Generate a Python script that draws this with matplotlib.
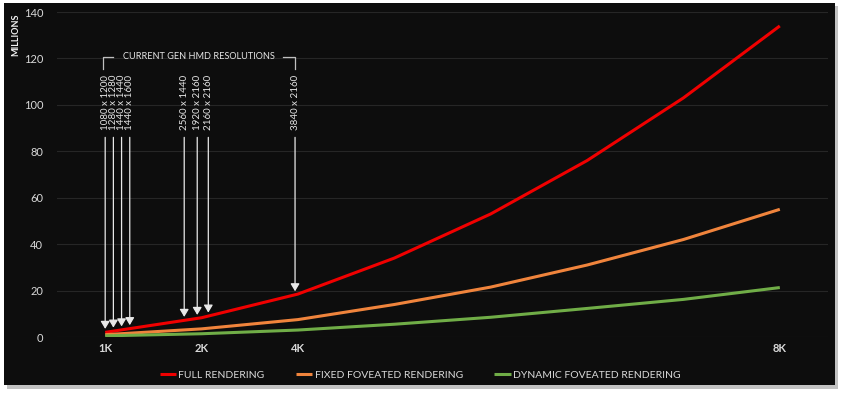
import matplotlib.pyplot as plt
import numpy as np
from matplotlib.patches import Rectangle

plt.rcParams["font.family"] = ["Lato", "DejaVu Sans"]

steps = ["1K", "2K", "4K", "", "", "", "", "8K"]
full = [2.0, 8.3, 18.5, 34, 53, 76, 103, 134]
fixed = [1.0, 3.5, 7.5, 14, 21.5, 31, 42, 55]
dynamic = [0.5, 1.4, 3.0, 5.5, 8.5, 12.3, 16.2, 21.3]
series_names = ["FULL RENDERING", "FIXED FOVEATED RENDERING", "DYNAMIC FOVEATED RENDERING"]
hmd_labels = ["1080 x 1200", "1280 x 1280", "1440 x 1440", "1440 x 1600",
              "2560 x 1440", "1920 x 2160", "2160 x 2160", "3840 x 2160"]
hmd_pos = [0.0, 0.085, 0.17, 0.255, 0.82, 0.955, 1.07, 1.97]

W, H = 844, 393
fig = plt.figure(figsize=(W / 100, H / 100), dpi=100, facecolor="white")

# card with shadow
fig.patches.append(Rectangle((7 / W, 4 / H), 831 / W, 383 / H, transform=fig.transFigure,
                             facecolor="#9a9a9a", edgecolor="none", alpha=0.6, zorder=-3))
fig.patches.append(Rectangle((4 / W, 8 / H), 831 / W, 382 / H, transform=fig.transFigure,
                             facecolor="#0d0d0d", edgecolor="none", zorder=-2))

ax = fig.add_axes([57 / W, 56 / H, 771 / W, 325 / H])
ax.set_facecolor("none")
x = np.arange(len(steps))
colors = ["#f00000", "#f0843c", "#70ad47"]
for vals, name, c in zip([full, fixed, dynamic], series_names, colors):
    ax.plot(x, vals, color=c, lw=2.2, label=name, solid_capstyle="butt", zorder=3)

ax.set_xlim(-0.5, len(steps) - 0.5)
ax.set_ylim(0, 140)
ax.set_yticks(range(0, 141, 20))
ax.set_xticks([i for i, s in enumerate(steps) if s])
ax.set_xticklabels([s for s in steps if s], fontweight="bold")
ax.grid(axis="y", color="#262626", lw=0.8)
ax.set_axisbelow(True)
for s in ax.spines.values():
    s.set_visible(False)
ax.tick_params(length=0, colors="#d9d9d9", labelsize=8)
ax.tick_params(axis="y", pad=10)
ax.tick_params(axis="x", pad=4)

# resolution arrows
for pos, lab in zip(hmd_pos, hmd_labels):
    y_end = np.interp(pos, x, full) + 1.5
    ax.annotate("", xy=(pos, y_end), xytext=(pos, 86),
                arrowprops=dict(arrowstyle="-|>,head_length=0.5,head_width=0.3",
                                color="#e8e8e8", lw=0.9,
                                mutation_scale=9, shrinkA=0, shrinkB=0), zorder=4)
    ax.text(pos, 89, lab, rotation=90, ha="center", va="bottom",
            color="#e6e6e6", fontsize=7)

# bracket
bl, br, btop, bbot = -0.02, 1.97, 120.7, 115.5
ax.plot([bl, bl, bl + 0.1], [bbot, btop, btop], color="#bfbfbf", lw=0.9)
ax.plot([br - 0.12, br, br], [btop, btop, bbot], color="#bfbfbf", lw=0.9)
ax.text((bl + br) / 2, btop, "CURRENT GEN HMD RESOLUTIONS", ha="center", va="center",
        color="#e6e6e6", fontsize=6.6)

fig.text(16 / W, 1 - 13 / H, "MILLIONS", rotation=90, ha="center", va="top",
         color="#f2f2f2", fontsize=6.5, fontweight="bold")

fig.legend(loc="center", bbox_to_anchor=(420 / W, 18 / H), ncol=3, frameon=False,
           fontsize=7.5, labelcolor="#d9d9d9", handlelength=1.6, handletextpad=0.2,
           columnspacing=3.0)

fig.savefig("out.png", dpi=100, facecolor="white")
